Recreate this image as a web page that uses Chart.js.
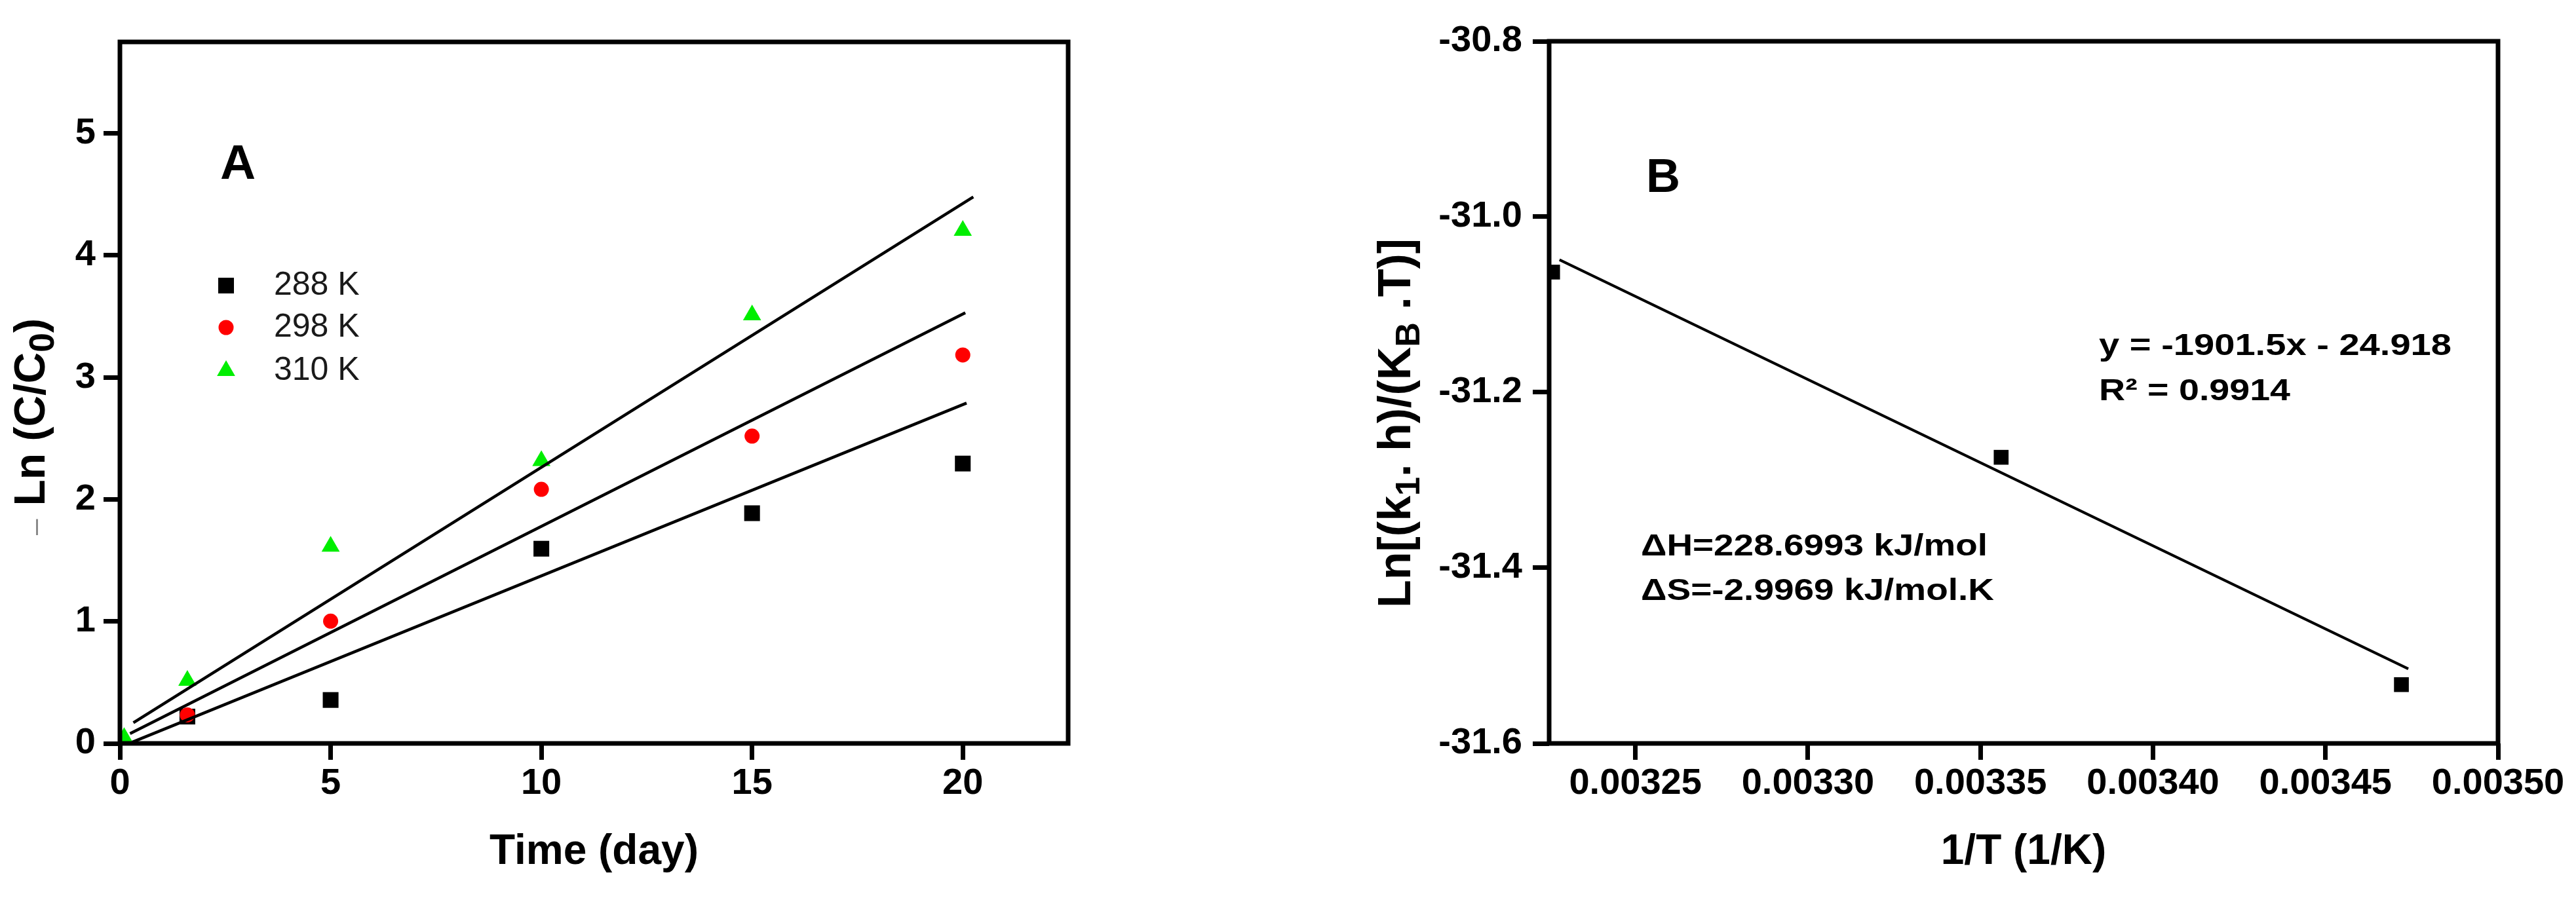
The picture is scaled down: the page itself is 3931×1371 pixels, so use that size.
<!DOCTYPE html>
<html>
<head>
<meta charset="utf-8">
<title>Degradation kinetics (A) and Eyring plot (B)</title>
<script src="https://cdn.jsdelivr.net/npm/chart.js@4.4.1/dist/chart.umd.min.js"></script>
<style>
  html, body { margin: 0; padding: 0; background: #fff; }
  body { width: 3931px; height: 1371px; position: relative; overflow: hidden; }
  .panel { position: absolute; top: 0; height: 1371px; }
  #panelA { left: 0; width: 1800px; }
  #panelB { left: 1900px; width: 2031px; }
</style>
</head>
<body>
<div class="panel" id="panelA"><canvas id="chartA"></canvas></div>
<div class="panel" id="panelB"><canvas id="chartB"></canvas></div>
<script>
const FONT = "'Liberation Sans', Arial, Helvetica, sans-serif";

// Panel A: -Ln(C/C0) vs time
const seriesLabels = ['288 K', '298 K', '310 K'];
const timeDays = [1.6, 5, 10, 15, 20];
const timeDays310 = [0.1, 1.6, 5, 10, 15, 20];
const lnC288 = [0.22, 0.356, 1.596, 1.887, 2.294];
const lnC298 = [0.234, 1.002, 2.083, 2.519, 3.184];
const lnC310 = [0.047, 0.515, 1.615, 2.317, 3.511, 4.204];
// linear fits (start / end)
const fitX288 = [0.29, 20.09], fitY288 = [0.01, 2.79];
const fitX298 = [0.24, 20.06], fitY298 = [0.08, 3.53];
const fitX310 = [0.32, 20.25], fitY310 = [0.17, 4.48];
const ticksAx = [0, 5, 10, 15, 20];
const ticksAy = [0, 1, 2, 3, 4, 5];

// Panel B: Ln[(k1.h)/(kB.T)] vs 1/T
const invTemp = [0.003226, 0.003356, 0.003472];
const lnRate = [-31.063, -31.274, -31.533];
const fitInvTemp = [0.003228, 0.003474], fitLnRate = [-31.049, -31.515];
const ticksBx = [0.00325, 0.0033, 0.00335, 0.0034, 0.00345, 0.0035];
const ticksBy = [-31.6, -31.4, -31.2, -31.0, -30.8];

const pts = (xs, ys) => xs.map((x, i) => ({ x: x, y: ys[i] }));

function makeAxis(min, max, tickList, pad, fmt, fit) {
  return {
    type: 'linear',
    min: min,
    max: max,
    border: { display: false },
    grid: { drawOnChartArea: false, drawTicks: true, tickLength: 25, tickWidth: 7, tickColor: '#000', color: '#000', lineWidth: 7 },
    ticks: { padding: pad, color: '#000', autoSkip: false, maxRotation: 0,
      font: { family: FONT, size: 56, weight: 'bold' }, callback: fmt },
    afterBuildTicks: axis => { axis.ticks = tickList.map(v => ({ value: v })); },
    afterFit: fit
  };
}

function xTitle(text) {
  return { display: true, text: text, color: '#000', padding: { top: 0, bottom: 31 },
    font: { family: FONT, size: 64, weight: 'bold' } };
}

// text with subscripts, optionally rotated (reading upwards)
function drawRich(ctx, parts, x, y, rotate) {
  ctx.save();
  ctx.translate(x, y);
  if (rotate) ctx.rotate(-Math.PI / 2);
  ctx.textBaseline = 'alphabetic';
  ctx.textAlign = 'left';
  let cx = 0;
  parts.forEach(p => {
    ctx.font = p.font;
    ctx.fillStyle = p.color || '#000';
    cx += p.gap || 0;
    ctx.fillText(p.text, cx, p.dy || 0);
    cx += ctx.measureText(p.text).width;
  });
  ctx.restore();
}

function drawStretched(ctx, text, x, y, font, width) {
  ctx.save();
  ctx.font = font;
  ctx.fillStyle = '#000';
  ctx.textBaseline = 'alphabetic';
  ctx.textAlign = 'left';
  const w = ctx.measureText(text).width;
  ctx.translate(x, y);
  ctx.scale(width / w, 1);
  ctx.fillText(text, 0, 0);
  ctx.restore();
}

function drawMarker(ctx, style, r, x, y, color) {
  ctx.save();
  ctx.fillStyle = color;
  ctx.strokeStyle = color;
  if (Chart.helpers && Chart.helpers.drawPoint) {
    Chart.helpers.drawPoint(ctx, { pointStyle: style, radius: r, rotation: 0, borderWidth: 0 }, x, y);
  } else {
    ctx.beginPath();
    if (style === 'rect') { const s = r * Math.SQRT1_2; ctx.rect(x - s, y - s, 2 * s, 2 * s); }
    else if (style === 'triangle') {
      ctx.moveTo(x, y - r);
      ctx.lineTo(x + r * Math.sin(2 * Math.PI / 3), y + r / 2);
      ctx.lineTo(x - r * Math.sin(2 * Math.PI / 3), y + r / 2);
      ctx.closePath();
    } else ctx.arc(x, y, r, 0, 2 * Math.PI);
    ctx.fill();
  }
  ctx.restore();
}

const framePlugin = {
  id: 'frame',
  afterDatasetsDraw(chart) {
    const { ctx, chartArea: a } = chart;
    ctx.save();
    ctx.strokeStyle = '#000';
    ctx.lineWidth = 7;
    ctx.strokeRect(a.left, a.top, a.right - a.left, a.bottom - a.top);
    ctx.restore();
  }
};

const fitStyle = { showLine: true, borderColor: '#000', borderWidth: 4.5, pointRadius: 0, fill: false, order: 0 };

// ---------- Chart A ----------
new Chart(document.getElementById('chartA'), {
  type: 'scatter',
  data: {
    datasets: [
      Object.assign({ data: pts(fitX288, fitY288) }, fitStyle),
      Object.assign({ data: pts(fitX298, fitY298) }, fitStyle),
      Object.assign({ data: pts(fitX310, fitY310) }, fitStyle),
      { label: seriesLabels[0], data: pts(timeDays, lnC288), pointStyle: 'rect', pointRadius: 17,
        backgroundColor: '#000000', borderWidth: 0, order: 3 },
      { label: seriesLabels[1], data: pts(timeDays, lnC298), pointStyle: 'circle', pointRadius: 11.5,
        backgroundColor: '#ff0000', borderWidth: 0, order: 2 },
      { label: seriesLabels[2], data: pts(timeDays310, lnC310), pointStyle: 'triangle', pointRadius: 16,
        backgroundColor: '#00ee00', borderWidth: 0, order: 1 }
    ]
  },
  options: {
    responsive: true, maintainAspectRatio: false, animation: false, devicePixelRatio: 1, events: [],
    layout: { padding: { left: 0, top: 64, right: 170, bottom: 0 } },
    plugins: { legend: { display: false }, tooltip: { enabled: false } },
    scales: {
      x: Object.assign(makeAxis(0, 22.5, ticksAx, 3, v => String(v), s => { s.height = 236; }),
        { title: xTitle('Time (day)') }),
      y: makeAxis(0, 5.75, ticksAy, 12, v => String(v), s => { s.width = 183; })
    }
  },
  plugins: [framePlugin, {
    id: 'textA',
    afterDraw(chart) {
      const ctx = chart.ctx;
      // y title: - Ln (C/C0)
      drawRich(ctx, [
        { text: '\u2013', font: '44px ' + FONT, color: '#8a8a8a' },
        { text: 'Ln (C/C', font: 'bold 66px ' + FONT, gap: 20 },
        { text: '0', font: 'bold 54px ' + FONT, dy: 14 },
        { text: ')', font: 'bold 66px ' + FONT }
      ], 68, 817, true);
      drawRich(ctx, [{ text: 'A', font: 'bold 75px ' + FONT }], 336, 273, false);
      // legend
      const rows = [436, 500, 566];
      chart.data.datasets.filter(d => d.label).forEach((d, i) => {
        drawMarker(ctx, d.pointStyle, d.pointRadius, 345, rows[i], d.backgroundColor);
        ctx.save();
        ctx.font = '50px ' + FONT;
        ctx.fillStyle = '#1a1a1a';
        ctx.textBaseline = 'middle';
        ctx.fillText(d.label, 418, rows[i]);
        ctx.restore();
      });
    }
  }]
});

// ---------- Chart B ----------
new Chart(document.getElementById('chartB'), {
  type: 'scatter',
  data: {
    datasets: [
      Object.assign({ data: pts(fitInvTemp, fitLnRate) }, fitStyle, { borderWidth: 4 }),
      { data: pts(invTemp, lnRate), pointStyle: 'rect', pointRadius: 16,
        backgroundColor: '#000000', borderWidth: 0, order: 1 }
    ]
  },
  options: {
    responsive: true, maintainAspectRatio: false, animation: false, devicePixelRatio: 1, events: [],
    layout: { padding: { left: 0, top: 63, right: 119, bottom: 0 } },
    plugins: { legend: { display: false }, tooltip: { enabled: false } },
    scales: {
      x: Object.assign(makeAxis(0.003225, 0.0035, ticksBx, 3, v => v.toFixed(5), s => { s.height = 236; }),
        { title: xTitle('1/T (1/K)') }),
      y: makeAxis(-31.6, -30.8, ticksBy, 16, v => v.toFixed(1), s => { s.width = 464; })
    }
  },
  plugins: [framePlugin, {
    id: 'textB',
    afterDraw(chart) {
      const ctx = chart.ctx;
      drawRich(ctx, [
        { text: 'Ln[(k', font: 'bold 70px ' + FONT },
        { text: '1', font: 'bold 52px ' + FONT, dy: 14 },
        { text: '. h)/(K', font: 'bold 70px ' + FONT },
        { text: 'B', font: 'bold 52px ' + FONT, dy: 14 },
        { text: ' .T)]', font: 'bold 70px ' + FONT }
      ], 252, 928, true);
      drawRich(ctx, [{ text: 'B', font: 'bold 72px ' + FONT }], 612, 293, false);
      const f = 'bold 46px ' + FONT;
      drawStretched(ctx, 'y = -1901.5x - 24.918', 1303, 542, f, 538);
      drawStretched(ctx, 'R\u00B2 = 0.9914', 1303, 611, f, 292);
      drawStretched(ctx, '\u0394H=228.6993 kJ/mol', 604, 848, f, 529);
      drawStretched(ctx, '\u0394S=-2.9969 kJ/mol.K', 604, 916, f, 539);
    }
  }]
});
</script>
</body>
</html>
